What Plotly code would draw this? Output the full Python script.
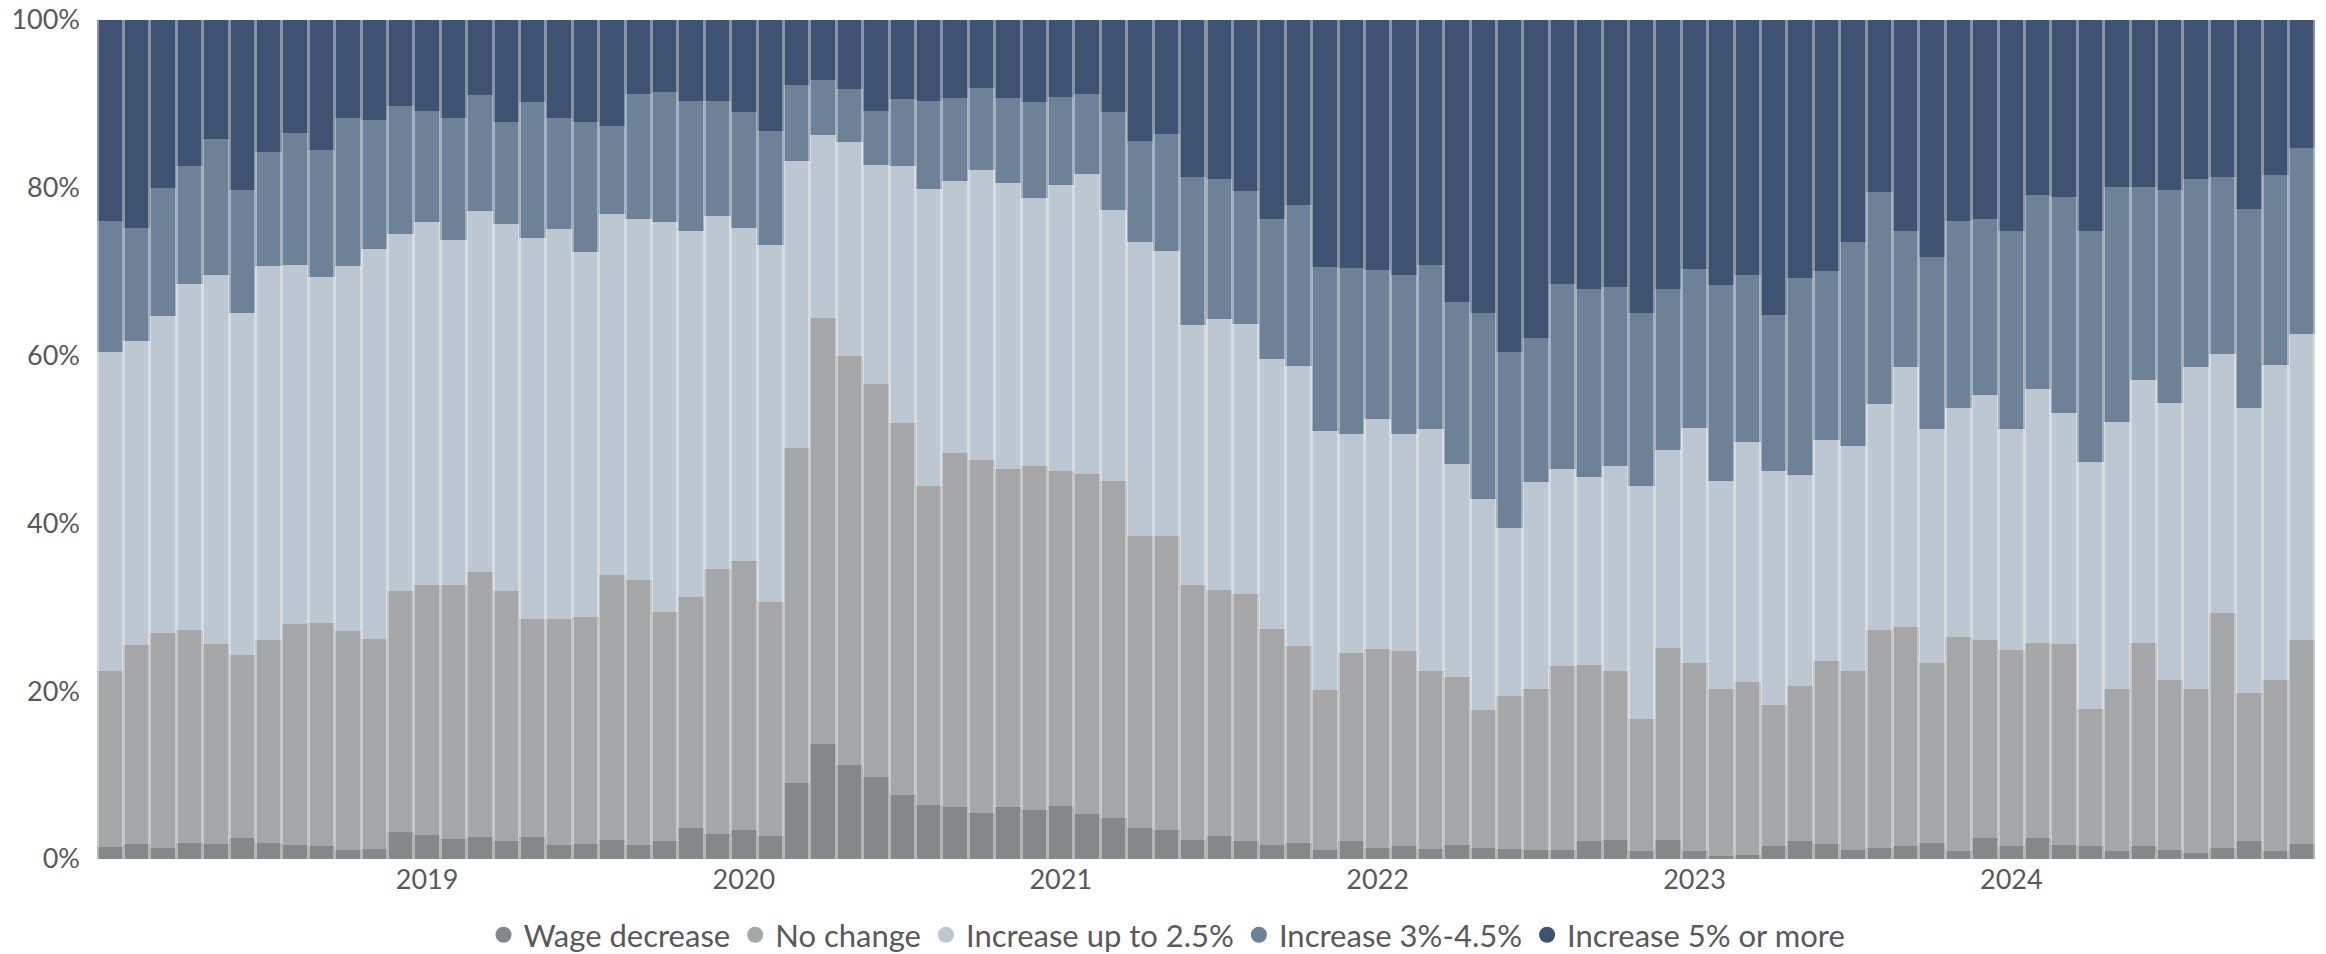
import plotly.graph_objects as go

years = [2018, 2019, 2020, 2021, 2022, 2023, 2024]
months = [f"{y}-{m:02d}" for y in years for m in range(1, 13)]

tick_vals = ["2019-01", "2020-01", "2021-01", "2022-01", "2023-01", "2024-01"]
tick_text = ["2019", "2020", "2021", "2022", "2023", "2024"]

y_tick_vals = [0, 20, 40, 60, 80, 100]
y_tick_text = ["0%", "20%", "40%", "60%", "80%", "100%"]

series_names = ["Wage decrease", "No change", "Increase up to 2.5%", "Increase 3%-4.5%", "Increase 5% or more"]

wage_decrease = [
    1.4, 1.8, 1.3, 1.9, 1.8, 2.5, 1.9, 1.7, 1.6, 1.1, 1.2, 3.2,
    2.9, 2.4, 2.6, 2.2, 2.6, 1.7, 1.8, 2.3, 1.7, 2.1, 3.7, 3.0,
    3.5, 2.8, 9.1, 13.7, 11.2, 9.8, 7.6, 6.4, 6.2, 5.5, 6.2, 5.9,
    6.3, 5.4, 4.9, 3.7, 3.5, 2.3, 2.8, 2.1, 1.7, 1.9, 1.1, 2.2,
    1.3, 1.6, 1.2, 1.7, 1.3, 1.2, 1.1, 1.1, 2.1, 2.3, 0.9, 2.3,
    0.9, 0.4, 0.5, 1.5, 2.1, 1.8, 1.1, 1.3, 1.6, 1.9, 0.9, 2.5,
    1.5, 2.5, 1.7, 1.6, 0.9, 1.6, 1.1, 0.7, 1.3, 2.1, 0.9, 1.8,
]
no_change = [
    21.0, 23.7, 25.6, 25.4, 23.8, 21.8, 24.2, 26.3, 26.5, 26.1, 25.0, 28.8,
    29.8, 30.2, 31.6, 29.8, 26.0, 26.9, 27.1, 31.6, 31.6, 27.3, 27.5, 31.6,
    32.0, 27.8, 39.9, 50.8, 48.8, 46.8, 44.4, 38.0, 42.2, 42.0, 40.3, 41.0,
    39.9, 40.5, 40.1, 34.8, 35.0, 30.4, 29.3, 29.5, 25.7, 23.5, 19.0, 22.4,
    23.7, 23.2, 21.2, 20.0, 16.5, 18.2, 19.2, 21.9, 21.0, 20.1, 15.8, 22.9,
    22.5, 19.9, 20.6, 16.9, 18.5, 21.8, 21.3, 26.0, 26.1, 21.5, 25.6, 23.6,
    23.4, 23.2, 23.9, 16.3, 19.4, 24.2, 20.2, 19.6, 28.0, 17.7, 20.4, 24.3,
]
increase_low = [
    38.0, 36.2, 37.8, 41.2, 44.0, 40.8, 44.6, 42.8, 41.3, 43.5, 46.5, 42.5,
    43.2, 41.2, 43.0, 43.7, 45.4, 46.5, 43.5, 43.0, 43.0, 46.5, 43.6, 42.0,
    39.7, 42.6, 34.2, 21.8, 25.4, 26.1, 30.6, 35.4, 32.4, 34.6, 34.1, 31.9,
    34.1, 35.8, 32.4, 35.1, 34.0, 30.9, 32.3, 32.2, 32.2, 33.4, 30.9, 26.1,
    27.5, 25.8, 28.8, 25.4, 25.1, 20.1, 24.6, 23.5, 22.4, 24.5, 27.8, 23.6,
    28.0, 24.7, 28.6, 27.8, 25.2, 26.4, 26.8, 26.9, 31.0, 27.9, 27.2, 29.2,
    26.4, 30.3, 27.5, 29.4, 31.8, 31.3, 33.1, 38.4, 30.9, 34.0, 37.6, 36.5,
]
increase_mid = [
    15.6, 13.5, 15.3, 14.1, 16.2, 14.6, 13.6, 15.7, 15.1, 17.6, 15.4, 15.2,
    13.2, 14.5, 13.9, 12.1, 16.2, 13.2, 15.4, 10.5, 14.9, 15.5, 15.5, 13.7,
    13.8, 13.6, 9.1, 6.6, 6.4, 6.5, 8.0, 10.6, 9.9, 9.8, 10.1, 11.4,
    10.5, 9.5, 11.6, 12.0, 13.9, 17.7, 16.7, 15.8, 16.7, 19.1, 19.6, 19.8,
    17.7, 19.0, 19.6, 19.3, 22.2, 20.9, 17.2, 22.0, 22.4, 21.3, 20.6, 19.1,
    18.9, 23.4, 19.9, 18.6, 23.5, 20.1, 24.3, 25.3, 16.1, 20.5, 22.3, 21.0,
    23.6, 23.2, 25.8, 27.5, 28.0, 23.0, 25.3, 22.3, 21.1, 23.7, 22.6, 22.1,
]
increase_high = [
    24.0, 24.8, 20.0, 17.4, 14.2, 20.3, 15.7, 13.5, 15.5, 11.7, 11.9, 10.3,
    10.9, 11.7, 8.9, 12.2, 9.8, 11.7, 12.2, 12.6, 8.8, 8.6, 9.7, 9.7,
    11.0, 13.2, 7.7, 7.1, 8.2, 10.8, 9.4, 9.6, 9.3, 8.1, 9.3, 9.8,
    9.2, 8.8, 11.0, 14.4, 13.6, 18.7, 18.9, 20.4, 23.7, 22.1, 29.4, 29.5,
    29.8, 30.4, 29.2, 33.6, 34.9, 39.6, 37.9, 31.5, 32.1, 31.8, 34.9, 32.1,
    29.7, 31.6, 30.4, 35.2, 30.7, 29.9, 26.5, 20.5, 25.2, 28.2, 24.0, 23.7,
    25.1, 20.8, 21.1, 25.2, 19.9, 19.9, 20.3, 19.0, 18.7, 22.5, 18.5, 15.3,
]

colors = ["#86878b", "#a5a6a8", "#bdc7d1", "#6d8297", "#3d5371"]
all_series = [wage_decrease, no_change, increase_low, increase_mid, increase_high]

FONT = "Lato"
TEXT_COLOR = "#595959"

fig = go.Figure()

# soft full-width layer (visible in the thin gaps between bars)
for name, vals, col in zip(series_names, all_series, colors):
    fig.add_trace(go.Bar(
        x=months, y=vals, name=name, marker=dict(color=col, line=dict(width=0)),
        opacity=0.62, width=1.0, showlegend=False, hoverinfo="skip",
        xaxis="x", yaxis="y",
    ))

# main bars
for name, vals, col in zip(series_names, all_series, colors):
    fig.add_trace(go.Bar(
        x=months, y=vals, name=name, marker=dict(color=col, line=dict(width=0)),
        width=0.885, showlegend=False,
        xaxis="x2", yaxis="y",
    ))

# legend entries (circle markers)
for name, col in zip(series_names, colors):
    fig.add_trace(go.Scatter(
        x=[None], y=[None], mode="markers", name=name,
        marker=dict(color=col, size=22, symbol="circle"),
        xaxis="x", yaxis="y",
    ))

# the page body adds an 8px offset, so the figure is sized to fill the rest
fig.update_layout(
    width=2318, height=946,
    barmode="stack",
    paper_bgcolor="white", plot_bgcolor="white",
    margin=dict(l=89, r=11, t=12, b=95, autoexpand=False),
    font=dict(family=FONT, color=TEXT_COLOR, size=27),
    xaxis=dict(
        type="category", categoryorder="array", categoryarray=months,
        range=[-0.5, len(months) - 0.5],
        tickmode="array", tickvals=tick_vals, ticktext=tick_text,
        showgrid=False, zeroline=False, showline=False, ticks="",
        ticklabelstandoff=2, ticklabeloverflow="allow",
        tickfont=dict(size=27, color=TEXT_COLOR, family=FONT),
        automargin=False,
    ),
    xaxis2=dict(
        type="category", categoryorder="array", categoryarray=months,
        range=[-0.5, len(months) - 0.5],
        overlaying="x", visible=False, matches="x",
    ),
    yaxis=dict(
        range=[0, 100], tickmode="array", tickvals=y_tick_vals, ticktext=y_tick_text,
        showgrid=False, zeroline=False, showline=False, ticks="",
        ticklabelstandoff=16, ticklabeloverflow="allow",
        tickfont=dict(size=27, color=TEXT_COLOR, family=FONT),
        automargin=False,
    ),
    legend=dict(
        orientation="h", xref="container", yref="container",
        x=0.5, xanchor="center", y=0.02, yanchor="middle",
        traceorder="normal",
        font=dict(size=31, color=TEXT_COLOR, family=FONT),
        itemwidth=30, tracegroupgap=0, bgcolor="rgba(0,0,0,0)",
    ),
    bargap=0,
)

fig.write_html("out.html")
